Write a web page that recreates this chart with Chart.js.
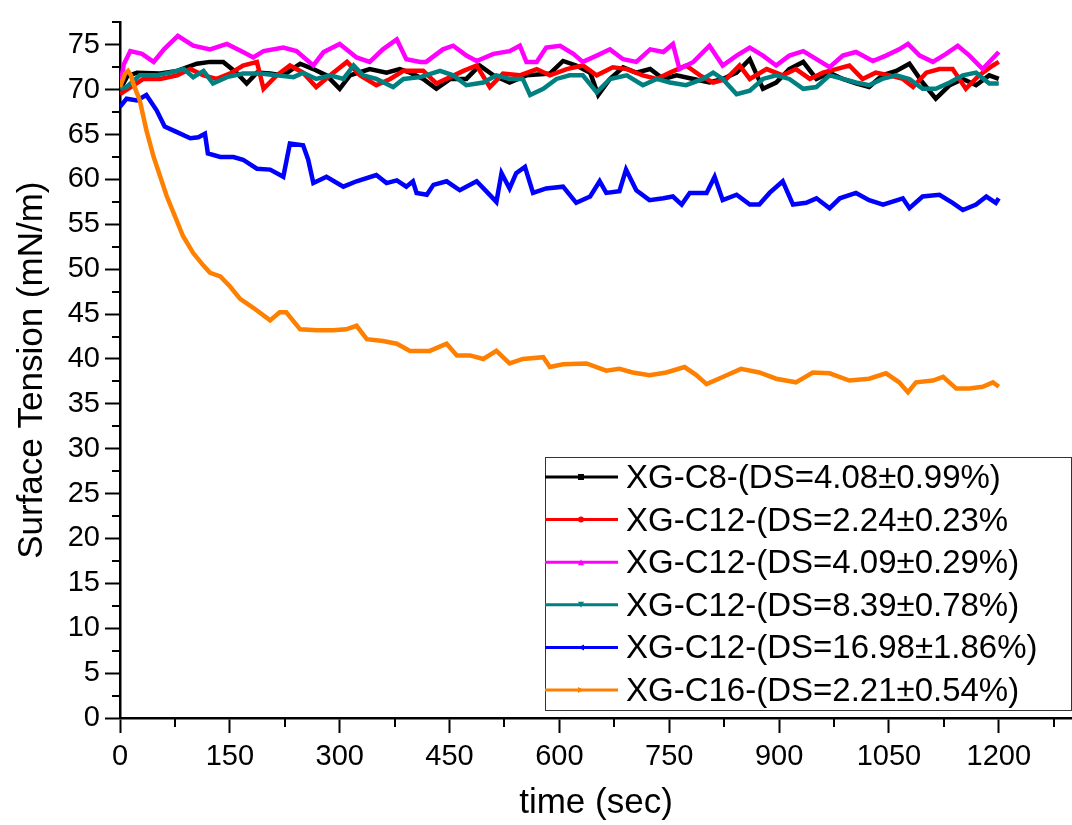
<!DOCTYPE html>
<html>
<head>
<meta charset="utf-8">
<script src="https://cdn.jsdelivr.net/npm/chart.js@4.4.1/dist/chart.umd.min.js"></script>
<style>
  html, body { margin: 0; padding: 0; background: #fff; }
  canvas { display: block; }
</style>
</head>
<body>
<canvas id="chart" width="1072" height="825"></canvas>
<script>
// series: time (sec) and surface tension (mN/m)
const tC8 = [0,10,23,55,78,105,123,141,159,173,187,205,223,246,264,282,300,314,341,364,382,396,414,432,451,473,491,510,532,555,587,605,623,642,653,669,687,705,724,742,760,783,805,823,842,860,878,896,914,933,951,969,987,1005,1023,1041,1060,1078,1096,1114,1133,1151,1169,1187,1200]
const vC8 = [70.0,71.5,71.9,71.8,72.1,72.9,73.1,73.1,71.9,70.7,71.9,71.8,71.6,72.9,72.3,71.6,70.1,71.6,72.3,71.9,72.3,71.9,71.2,70.1,71.2,71.2,72.7,71.6,70.8,71.6,71.8,73.2,72.7,71.9,69.4,71.2,72.5,71.9,72.3,71.2,71.6,71.2,70.8,71.2,71.9,73.4,70.1,70.8,72.3,73.1,71.2,71.9,71.2,70.7,70.3,71.6,72.1,72.9,70.8,69.0,70.5,71.2,70.5,71.6,71.2]

const tC12a = [0,32,55,78,96,114,132,150,168,187,196,214,232,250,268,287,310,328,350,369,387,414,432,451,469,487,505,523,546,569,587,610,632,651,673,692,714,733,751,773,792,810,828,846,860,883,905,923,942,960,978,996,1014,1032,1051,1069,1083,1101,1119,1137,1155,1173,1192,1200]
const vC12a = [69.5,71.2,71.2,71.6,72.3,71.6,71.2,71.8,72.7,73.1,70.1,71.6,72.7,71.9,70.3,71.6,73.1,71.6,70.5,71.2,72.1,72.1,70.7,71.4,72.1,72.7,70.3,71.8,71.6,72.3,71.6,72.3,72.7,71.6,72.5,72.3,71.6,71.2,71.9,72.7,71.6,70.8,71.2,72.7,71.2,72.3,71.6,72.3,71.2,71.9,72.3,72.7,71.2,71.9,71.6,71.2,70.3,71.9,72.3,72.3,70.1,71.6,72.7,73.1]

const tC12b = [0,5,14,30,46,60,79,100,123,146,168,182,196,223,241,264,278,300,323,341,359,378,391,410,418,441,455,473,487,510,532,546,555,569,582,601,619,632,651,669,687,705,724,742,755,764,783,805,823,842,860,878,896,914,933,951,969,987,1005,1028,1046,1064,1076,1092,1110,1128,1144,1160,1178,1200]
const vC12b = [70.1,72.8,74.3,74.0,73.1,74.5,76.0,74.9,74.5,75.1,74.2,73.6,74.3,74.7,74.3,72.7,74.2,75.1,73.6,73.1,74.5,75.6,73.4,73.1,73.1,74.5,74.9,73.8,73.2,74.0,74.3,74.9,73.1,73.1,74.7,74.9,74.0,73.1,73.8,74.5,73.4,73.1,74.5,74.2,75.1,72.3,73.1,74.9,72.7,73.8,74.7,73.8,72.7,73.8,74.3,73.4,72.5,73.8,74.2,73.2,73.8,74.5,75.1,73.8,73.1,74.0,74.9,73.8,72.3,74.2]

const tC12c = [0,9,27,50,68,87,100,114,127,146,168,191,214,237,250,268,287,305,319,332,350,373,387,410,437,455,473,496,514,532,550,560,578,596,614,632,651,669,692,714,733,751,773,796,810,823,842,860,878,896,914,933,951,969,987,1005,1023,1041,1060,1078,1096,1114,1133,1151,1169,1187,1200]
const vC12c = [70.1,70.3,71.6,71.6,71.9,72.3,71.4,72.1,70.7,71.4,71.8,71.8,71.6,71.4,71.9,71.2,71.6,71.2,72.7,71.6,71.2,70.3,71.2,71.4,72.1,71.6,70.5,70.8,71.6,71.2,71.2,69.4,70.1,71.2,71.6,71.6,69.7,71.2,71.6,70.5,71.2,70.8,70.5,71.2,71.9,71.2,69.5,69.9,71.2,71.6,71.2,70.1,70.3,71.6,71.2,70.8,70.5,71.2,71.6,71.2,70.1,70.1,70.8,71.6,71.9,70.7,70.7]

const tC12d = [0,9,23,36,50,61,77,96,107,116,120,137,155,168,187,205,223,232,250,257,264,282,305,323,350,364,378,391,400,405,419,428,446,464,487,500,514,521,532,541,553,564,582,605,623,642,655,664,682,691,705,723,742,755,767,778,801,812,823,842,860,873,887,905,919,937,951,969,983,1005,1023,1042,1069,1078,1096,1119,1137,1151,1169,1183,1196,1200]
const vC12d = [68.1,69.0,68.8,69.4,67.7,65.9,65.3,64.6,64.7,65.1,62.9,62.5,62.5,62.2,61.2,61.1,60.3,64.0,63.8,62.2,59.6,60.3,59.2,59.8,60.5,59.6,59.9,59.2,59.8,58.5,58.3,59.4,59.8,58.8,59.8,58.7,57.5,60.7,59.0,60.7,61.4,58.5,59.0,59.2,57.4,58.1,59.8,58.5,58.7,61.1,58.8,57.7,57.9,58.1,57.2,58.5,58.5,60.3,57.7,58.3,57.2,57.2,58.5,59.8,57.2,57.4,57.9,56.8,57.9,58.5,57.7,57.2,57.9,56.8,58.1,58.3,57.4,56.6,57.2,58.1,57.4,57.9]

const tC16 = [0,7,11,15,18,27,36,46,55,64,73,86,100,114,123,137,150,164,182,205,218,227,246,269,291,309,323,337,359,378,396,423,446,460,478,496,514,532,550,578,587,605,637,664,682,700,723,746,771,787,801,823,848,873,896,923,946,969,996,1023,1046,1064,1076,1087,1110,1124,1142,1160,1178,1192,1200]
const vC16 = [70.3,71.8,72.1,71.6,70.7,68.8,65.5,62.5,60.3,58.1,56.3,53.7,51.8,50.4,49.6,49.2,48.1,46.7,45.7,44.3,45.2,45.2,43.3,43.2,43.2,43.3,43.7,42.2,42.0,41.7,40.9,40.9,41.7,40.4,40.4,40.0,40.9,39.5,40.0,40.2,39.1,39.4,39.5,38.7,38.9,38.5,38.2,38.5,39.1,38.2,37.2,38.0,38.9,38.5,37.8,37.4,38.5,38.4,37.6,37.8,38.4,37.4,36.3,37.4,37.6,38.0,36.7,36.7,36.9,37.4,36.9]

const seriesLabels = [
  'XG-C8-(DS=4.08±0.99%)',
  'XG-C12-(DS=2.24±0.23%',
  'XG-C12-(DS=4.09±0.29%)',
  'XG-C12-(DS=8.39±0.78%)',
  'XG-C12-(DS=16.98±1.86%)',
  'XG-C16-(DS=2.21±0.54%)'
]
const seriesTimes = [tC8, tC12a, tC12b, tC12c, tC12d, tC16]
const seriesValues = [vC8, vC12a, vC12b, vC12c, vC12d, vC16]
const seriesColors = ['#000000', '#ff0000', '#ff00ff', '#008080', '#0000ff', '#ff8000']
const seriesMarkers = ['square', 'circle', 'up', 'down', 'left', 'right']

const xTicks = [0, 150, 300, 450, 600, 750, 900, 1050, 1200]
const xMinorTicks = [75, 225, 375, 525, 675, 825, 975, 1125, 1275]
const yTicks = [0, 5, 10, 15, 20, 25, 30, 35, 40, 45, 50, 55, 60, 65, 70, 75]
const yMinorTicks = [2.5, 7.5, 12.5, 17.5, 22.5, 27.5, 32.5, 37.5, 42.5, 47.5, 52.5, 57.5, 62.5, 67.5, 72.5, 77.5]

const FONT = '"Liberation Sans", Arial, sans-serif'

function drawMarker(ctx, kind, x, y, r) {
  ctx.beginPath()
  if (kind === 'square') {
    ctx.rect(x - r, y - r, 2 * r, 2 * r)
  } else if (kind === 'circle') {
    ctx.arc(x, y, r, 0, Math.PI * 2)
  } else if (kind === 'up') {
    ctx.moveTo(x, y - r); ctx.lineTo(x + r, y + r); ctx.lineTo(x - r, y + r)
  } else if (kind === 'down') {
    ctx.moveTo(x, y + r); ctx.lineTo(x + r, y - r); ctx.lineTo(x - r, y - r)
  } else if (kind === 'left') {
    ctx.moveTo(x - r, y); ctx.lineTo(x + r, y - r); ctx.lineTo(x + r, y + r)
  } else {
    ctx.moveTo(x + r, y); ctx.lineTo(x - r, y - r); ctx.lineTo(x - r, y + r)
  }
  ctx.closePath()
  ctx.fill()
}

// minor ticks and the boxed legend, Origin style
const originExtras = {
  id: 'originExtras',
  afterDraw(chart) {
    const ctx = chart.ctx
    const xs = chart.scales.x
    const ys = chart.scales.y
    ctx.save()
    ctx.strokeStyle = '#000'
    ctx.lineWidth = 2
    ctx.beginPath()
    xMinorTicks.forEach(v => {
      const px = Math.round(xs.getPixelForValue(v))
      ctx.moveTo(px, ys.bottom)
      ctx.lineTo(px, ys.bottom + 9)
    })
    yMinorTicks.forEach(v => {
      const py = Math.round(ys.getPixelForValue(v))
      ctx.moveTo(xs.left, py)
      ctx.lineTo(xs.left - 8, py)
    })
    ctx.stroke()

    // legend box
    const bx = 545, by = 457, bw = 526, bh = 253
    ctx.fillStyle = '#fff'
    ctx.fillRect(bx, by, bw, bh)
    ctx.strokeStyle = '#333'
    ctx.lineWidth = 1
    ctx.strokeRect(bx + 0.5, by + 0.5, bw, bh)
    ctx.font = '33px ' + FONT
    ctx.textBaseline = 'middle'
    chart.data.datasets.forEach((ds, i) => {
      const cy = by + 20 + i * 42.6
      ctx.strokeStyle = ds.borderColor
      ctx.lineWidth = 3
      ctx.beginPath()
      ctx.moveTo(bx, cy)
      ctx.lineTo(bx + 73, cy)
      ctx.stroke()
      ctx.fillStyle = ds.borderColor
      drawMarker(ctx, seriesMarkers[i], bx + 36, cy, 3)
      ctx.fillStyle = '#000'
      ctx.fillText(ds.label, bx + 81, cy + 2)
    })
    ctx.restore()
  }
}

const datasets = seriesLabels.map((label, i) => ({
  label: label,
  data: seriesTimes[i].map((t, j) => ({x: t, y: seriesValues[i][j]})),
  borderColor: seriesColors[i],
  backgroundColor: seriesColors[i],
  borderWidth: 4.5,
  pointRadius: 0,
  tension: 0,
  order: seriesLabels.length - i
}))

new Chart(document.getElementById('chart').getContext('2d'), {
  type: 'line',
  data: {datasets: datasets},
  options: {
    responsive: false,
    animation: false,
    layout: {padding: {top: 18, right: 0, bottom: 0, left: 0}},
    plugins: {legend: {display: false}, tooltip: {enabled: false}},
    scales: {
      x: {
        type: 'linear',
        min: 0,
        max: 1300,
        afterBuildTicks: scale => { scale.ticks = xTicks.map(v => ({value: v})) },
        afterFit: scale => { scale.height = 107 },
        border: {display: true, color: '#000', width: 2.5},
        grid: {drawOnChartArea: false, drawTicks: true, tickLength: 15, tickColor: '#000', tickWidth: 2},
        ticks: {
          color: '#000',
          padding: 7,
          maxRotation: 0,
          autoSkip: false,
          font: {family: FONT, size: 29},
          callback: v => String(v)
        },
        title: {
          display: true,
          text: 'time (sec)',
          color: '#000',
          font: {family: FONT, size: 35},
          padding: {top: 0, bottom: 1}
        }
      },
      y: {
        type: 'linear',
        min: 0,
        max: 77.5,
        afterBuildTicks: scale => { scale.ticks = yTicks.map(v => ({value: v})) },
        afterFit: scale => { scale.width = 120 },
        border: {display: true, color: '#000', width: 2.5},
        grid: {drawOnChartArea: false, drawTicks: true, tickLength: 15, tickColor: '#000', tickWidth: 2},
        ticks: {
          color: '#000',
          padding: 5,
          autoSkip: false,
          font: {family: FONT, size: 29},
          callback: v => String(v)
        },
        title: {
          display: true,
          text: 'Surface Tension (mN/m)',
          color: '#000',
          font: {family: FONT, size: 35},
          padding: {top: 11, bottom: 0}
        }
      }
    }
  },
  plugins: [originExtras]
})
</script>
</body>
</html>
